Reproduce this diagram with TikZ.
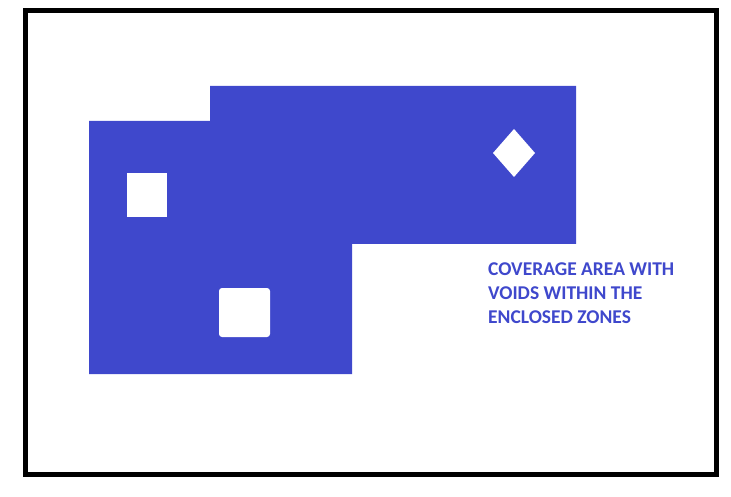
\documentclass[tikz,border=0pt]{standalone}
\usepackage{fontspec}
\newfontfamily\notefont{Carlito}
\begin{document}
\begin{tikzpicture}[x=1pt,y=-1pt]

    % Colours: coverage blue
    \colorlet{coverblue}{rgb,255:red,63;green,72;blue,204}

    % Frame line width
    \def\fw{5}

    % Canvas (1 unit = 1 px of the 731 x 497 sheet)
    \useasboundingbox (0,0) rectangle (731,497);

    % Outer frame
    \draw[line width=\fw pt, draw=black] (25.5,10.5) rectangle (716.5,474);

    % Coverage area: stepped outline
    %   left block  x=[89,352], y=[121,374]
    %   upper block x=[210,576], y=[86,244]
    \fill[coverblue]
        (89,121)--(210,121)--(210,86)--(576,86)--(576,244)
        --(352,244)--(352,374)--(89,374)--cycle;

    % Voids inside the zones
    \tikzset{void/.style={fill=white}}
    \fill[void] (127,173) rectangle (167,217);                  % square
    \fill[void, rounded corners=3pt] (219,288) rectangle (270,337); % rounded
    \fill[void] (514,129)--(535,153)--(514,177)--(493,153)--cycle; % diamond

    % Note text
    \node[anchor=north west, inner sep=0pt, align=left,
          font=\notefont\bfseries\fontsize{19.5}{24}\selectfont,
          text=coverblue] (note) at (488,263)
        {COVERAGE AREA WITH\\VOIDS WITHIN THE\\ENCLOSED ZONES};

\end{tikzpicture}
\end{document}
